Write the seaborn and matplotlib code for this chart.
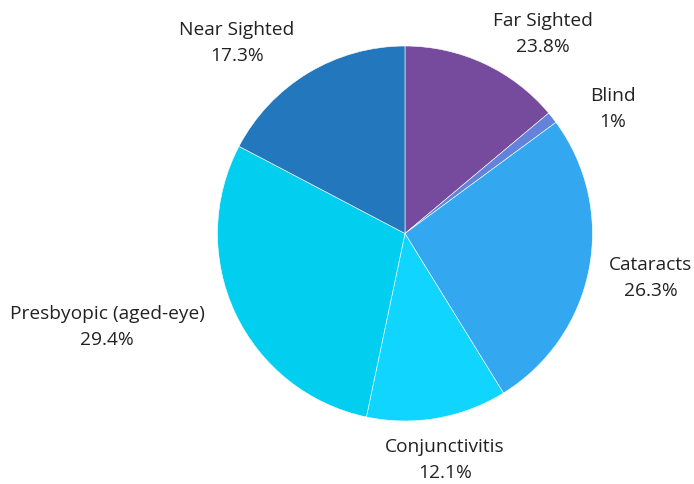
import matplotlib
matplotlib.use("Agg")
import matplotlib.pyplot as plt
import seaborn as sns

# slice sizes as drawn, in clockwise order from 12 o'clock
categories = ["Far Sighted", "Blind", "Cataracts", "Conjunctivitis",
              "Presbyopic (aged-eye)", "Near Sighted"]
values = [13.9, 1.0, 26.3, 12.1, 29.4, 17.3]
# percentages as printed on the chart
pct_labels = ["23.8%", "1%", "26.3%", "12.1%", "29.4%", "17.3%"]

colors = ["#764A9C", "#6283D9", "#33A8F1", "#10D6FF", "#02CFEF", "#2277BD"]
# label centres in pie-radius units
label_pos = [(0.738, 1.070), (1.109, 0.669), (1.309, -0.232),
             (0.213, -1.202), (-1.589, -0.492), (-0.898, 1.023)]

sns.set_style("white")
plt.rcParams["font.family"] = ["Open Sans", "DejaVu Sans"]

fig = plt.figure(figsize=(6.94, 4.85), dpi=100)
ax = fig.add_axes([0.3134, 0.1299, 0.5403, 0.7732])

wedges, _ = ax.pie(values, colors=colors, startangle=90, counterclock=False,
                   radius=1.0, wedgeprops=dict(edgecolor="white", linewidth=0.4))

for name, pct, (x, y) in zip(categories, pct_labels, label_pos):
    ax.text(x, y, name + "\n" + pct, ha="center", va="center",
            multialignment="center", fontsize=13.8, color="#222222",
            linespacing=1.6)

ax.set_xlim(-1, 1)
ax.set_ylim(-1, 1)
ax.set_aspect("equal")
ax.axis("off")

fig.savefig("out.png", dpi=100)
